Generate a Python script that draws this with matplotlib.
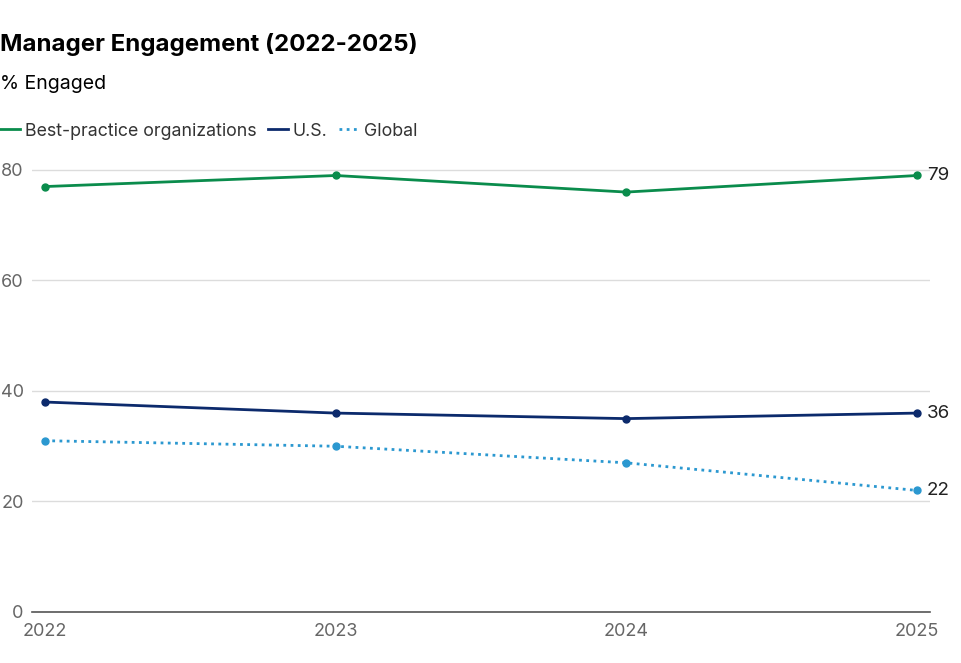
import matplotlib.pyplot as plt

plt.rcParams['font.family'] = ['Inter', 'DejaVu Sans']

years = [2022, 2023, 2024, 2025]
best_practice = [77, 79, 76, 79]
us = [38, 36, 35, 36]
global_vals = [31, 30, 27, 22]
yticks = [0, 20, 40, 60, 80]

green = '#0a8c4c'
navy = '#0c2a6c'
blue = '#2b98d0'

fig = plt.figure(figsize=(9.61, 6.63), dpi=100)
ax = fig.add_axes([32/961, 51/663, 898/961, 447/663])

ax.plot(years, best_practice, color=green, lw=2, marker='o', ms=5, label='Best-practice organizations')
ax.plot(years, us, color=navy, lw=2, marker='o', ms=5, label='U.S.')
ax.plot(years, global_vals, color=blue, lw=2, ls=(0, (1, 1.6)), marker='o', ms=5, label='Global')

# etiquetas al final de cada serie
for vals in [best_practice, us, global_vals]:
    ax.annotate(str(vals[-1]), xy=(years[-1], vals[-1]), xytext=(7, 0), textcoords='offset points',
                va='center', ha='left', fontsize=13.5, color='#222222', annotation_clip=False)

ax.set_xlim(2021.955, 2025.045)
ax.set_ylim(0, 80.9)
ax.set_yticks(yticks)
ax.set_xticks(years)
ax.set_xticklabels([str(y) for y in years])
ax.grid(axis='y', color='#dcdcdc', lw=1)
ax.set_axisbelow(True)
for s in ['top', 'right', 'left']:
    ax.spines[s].set_visible(False)
ax.spines['bottom'].set_color('#555555')
ax.spines['bottom'].set_linewidth(1.2)
ax.tick_params(axis='both', length=0, labelsize=13, labelcolor='#666666')
ax.tick_params(axis='y', pad=6)
ax.tick_params(axis='x', pad=8)

fig.text(0.0, 1 - 44/663, 'Manager Engagement (2022-2025)', fontsize=17.3, fontweight='bold',
         va='center', ha='left', color='#000000')
fig.text(0.0, 1 - 84/663, '% Engaged', fontsize=14, va='center', ha='left', color='#000000')

fig.legend(loc='center left', bbox_to_anchor=(0.0, 1 - 131/663), ncol=3, frameon=False,
           fontsize=12.8, handlelength=1.1, handletextpad=0.3, columnspacing=0.65,
           borderpad=0, borderaxespad=0, labelcolor='#333333', markerscale=0)

fig.savefig('out.png', dpi=100)
